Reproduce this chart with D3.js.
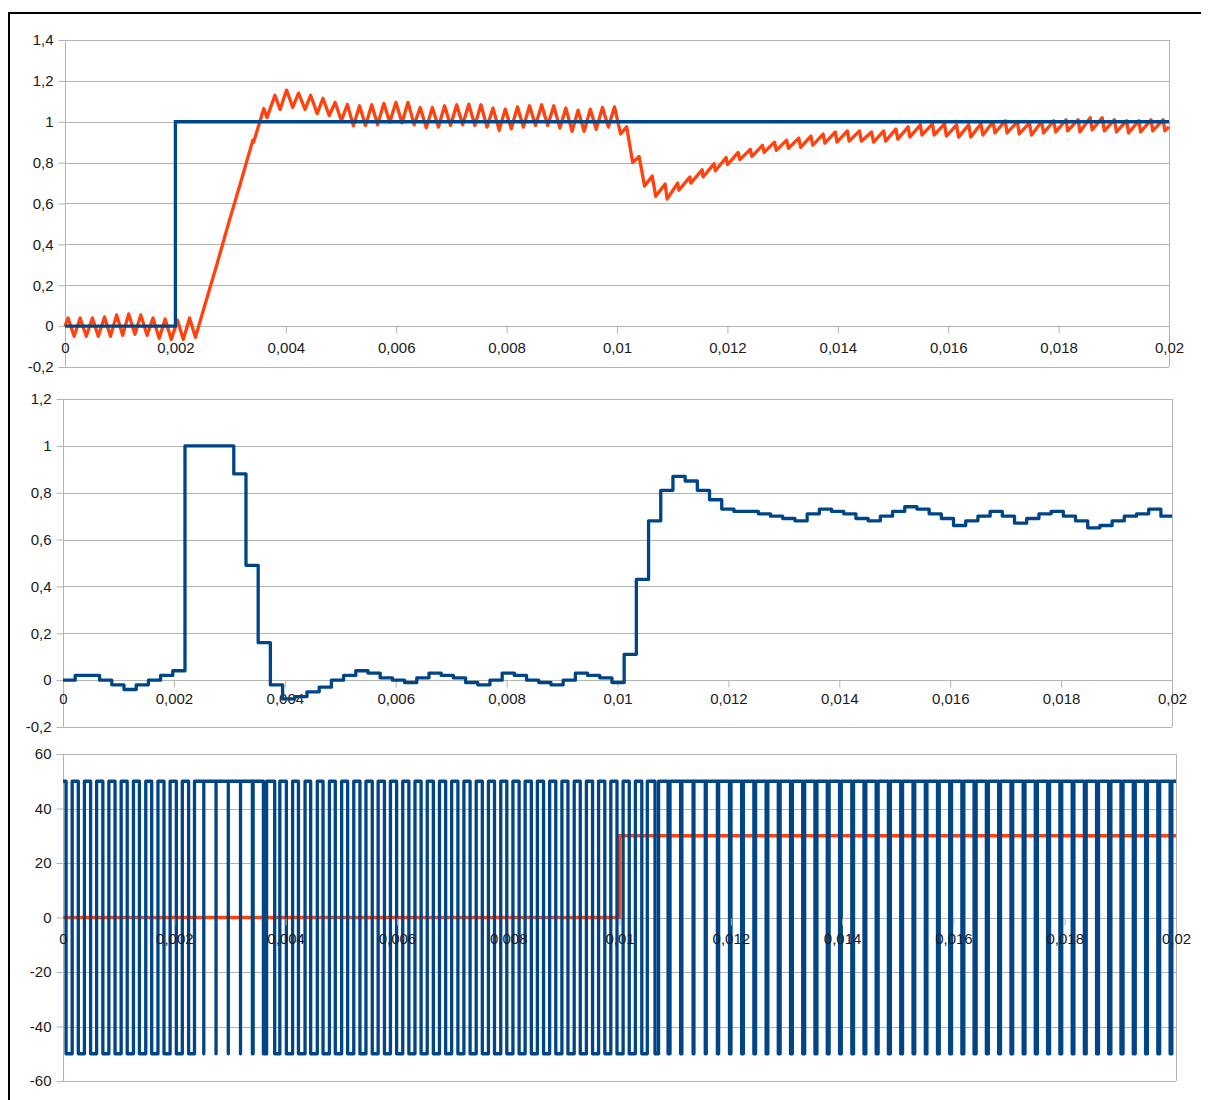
<!DOCTYPE html>
<html>
<head>
<meta charset="utf-8">
<script src="https://cdn.jsdelivr.net/npm/d3@7"></script>
<style>
  html, body { margin: 0; padding: 0; background: #fff; }
  svg { display: block; }
  text { font-family: "Liberation Sans", Arial, sans-serif; }
</style>
</head>
<body>
<svg id="chart" width="1210" height="1100"></svg>
<script>
// ---- data ---------------------------------------------------------------
// switching / sampling period of the converter (s)
const period = 0.00022;
const tEnd = 0.02;

// x-axis ticks (shared by the three plots)
const xTickValues = [0, 0.002, 0.004, 0.006, 0.008, 0.01, 0.012, 0.014, 0.016, 0.018, 0.02];
const xTickLabels = ["0", "0,002", "0,004", "0,006", "0,008", "0,01", "0,012", "0,014", "0,016", "0,018", "0,02"];

// plot 1 y ticks
const y1TickValues = [-0.2, 0, 0.2, 0.4, 0.6, 0.8, 1, 1.2, 1.4];
const y1TickLabels = ["-0,2", "0", "0,2", "0,4", "0,6", "0,8", "1", "1,2", "1,4"];
// plot 2 y ticks
const y2TickValues = [-0.2, 0, 0.2, 0.4, 0.6, 0.8, 1, 1.2];
const y2TickLabels = ["-0,2", "0", "0,2", "0,4", "0,6", "0,8", "1", "1,2"];
// plot 3 y ticks
const y3TickValues = [-60, -40, -20, 0, 20, 40, 60];
const y3TickLabels = ["-60", "-40", "-20", "0", "20", "40", "60"];

// reference step (plot 1, blue)
const refTimes = [0, 0.002];
const refValues = [0, 1];

// load disturbance (plot 3, orange)
const loadTimes = [0, 0.01];
const loadValues = [0, 30];

// controller output, one value per period (plot 2)
const ctrlOut = [
  0, 0.02, 0.02, 0, -0.02, -0.04, -0.02, 0, 0.02, 0.04,
  1, 1, 1, 1, 0.88, 0.49, 0.16, -0.02, -0.08, -0.07,
  -0.05, -0.03, 0, 0.02, 0.04, 0.03, 0.01, 0, -0.01, 0.01,
  0.03, 0.02, 0.01, -0.01, -0.02, 0, 0.03, 0.02, 0, -0.01,
  -0.02, 0, 0.03, 0.02, 0.01, -0.01, 0.11, 0.43, 0.68, 0.81,
  0.87, 0.85, 0.81, 0.77, 0.73, 0.72, 0.72, 0.71, 0.70, 0.69,
  0.68, 0.71, 0.73, 0.72, 0.71, 0.69, 0.68, 0.70, 0.72, 0.74,
  0.73, 0.71, 0.69, 0.66, 0.68, 0.70, 0.72, 0.70, 0.67, 0.69,
  0.71, 0.72, 0.70, 0.68, 0.65, 0.66, 0.68, 0.70, 0.71, 0.73,
  0.70
];

// bridge output: fraction of each period spent at the low level,
// the low pulse sits in the middle of the period (plot 3, blue)
const bridgeLow = [
  0.5, 0.5, 0.49, 0.49, 0.5, 0.51, 0.52, 0.51, 0.5, 0.49,
  0.48, 0, 0, 0, 0, 0.06, 0.26, 0.42, 0.51, 0.54,
  0.54, 0.52, 0.52, 0.5, 0.49, 0.48, 0.49, 0.5, 0.5, 0.5,
  0.5, 0.49, 0.49, 0.5, 0.5, 0.51, 0.5, 0.49, 0.49, 0.5,
  0.5, 0.51, 0.5, 0.49, 0.49, 0.5, 0.5, 0.45, 0.29, 0.16,
  0.1, 0.07, 0.08, 0.1, 0.12, 0.14, 0.14, 0.14, 0.15, 0.15,
  0.16, 0.16, 0.15, 0.14, 0.14, 0.15, 0.16, 0.16, 0.15, 0.14,
  0.13, 0.14, 0.15, 0.16, 0.17, 0.16, 0.15, 0.14, 0.15, 0.17,
  0.16, 0.15, 0.14, 0.15, 0.16, 0.18, 0.17, 0.16, 0.15, 0.15,
  0.14
];
const bridgeHigh = 50;
const bridgeLowLevel = -50;

// plant output (plot 1, orange): value at the start of each low pulse ...
const outPeak = [
  0.04, 0.04, 0.04, 0.045, 0.055, 0.06, 0.055, 0.04, 0.035, 0.03,
  0.04, 0.10, 0.30, 0.51, 0.71, 0.91, 1.065, 1.13, 1.155, 1.14,
  1.13, 1.115, 1.095, 1.085, 1.078, 1.083, 1.09, 1.095, 1.095, 1.07,
  1.07, 1.078, 1.083, 1.086, 1.083, 1.067, 1.062, 1.073, 1.078, 1.083,
  1.078, 1.067, 1.057, 1.062, 1.07, 1.073, 0.975, 0.83, 0.735, 0.695,
  0.70, 0.73, 0.765, 0.795, 0.825, 0.85, 0.865, 0.885, 0.90, 0.91,
  0.92, 0.93, 0.94, 0.95, 0.955, 0.955, 0.95, 0.955, 0.965, 0.975,
  0.985, 0.99, 0.99, 0.985, 0.985, 0.99, 1.0, 1.005, 1.0, 0.995,
  1.0, 1.005, 1.01, 1.01, 1.02, 1.02, 1.01, 1.005, 1.005, 1.01,
  1.01
];
// ... and at its end
const outTrough = [
  -0.05, -0.05, -0.05, -0.05, -0.045, -0.04, -0.045, -0.06, -0.065, -0.065,
  -0.055, 0.10, 0.30, 0.51, 0.71, 0.90, 1.02, 1.06, 1.07, 1.06,
  1.04, 1.03, 1.005, 0.98, 0.982, 0.985, 0.998, 0.995, 0.985, 0.97,
  0.974, 0.982, 0.985, 0.982, 0.974, 0.958, 0.966, 0.974, 0.982, 0.982,
  0.969, 0.953, 0.953, 0.963, 0.974, 0.94, 0.80, 0.685, 0.635, 0.622,
  0.665, 0.70, 0.73, 0.76, 0.79, 0.815, 0.83, 0.85, 0.86, 0.87,
  0.875, 0.885, 0.895, 0.90, 0.905, 0.905, 0.90, 0.905, 0.915, 0.925,
  0.935, 0.935, 0.93, 0.925, 0.925, 0.935, 0.945, 0.945, 0.94, 0.935,
  0.945, 0.95, 0.955, 0.95, 0.96, 0.955, 0.95, 0.945, 0.95, 0.955,
  0.955
];
const outStart = 0;
const outFinal = 0.975;

// ---- styles -------------------------------------------------------------
const BLUE = "#004586";
const ORANGE = "#ff420e";
const GRID = "#b3b3b3";
const TEXT = "#1a1a1a";
const FONT = "'Liberation Sans', Arial, sans-serif";
const LINE_W = 3.3;

const svg = d3.select("#chart");

// outer frame
svg.append("path")
  .attr("d", "M9,1100 V13 H1201")
  .attr("fill", "none")
  .attr("stroke", "#000")
  .attr("stroke-width", 2);

// ---- helpers ------------------------------------------------------------
function drawFrame(g, x, y, yTicks, yLabels) {
  const [x0, x1] = x.range();
  const [yb, yt] = y.range();
  // horizontal grid lines
  g.append("g").selectAll("line").data(yTicks).join("line")
    .attr("x1", x0).attr("x2", x1)
    .attr("y1", d => Math.round(y(d)) + 0.5).attr("y2", d => Math.round(y(d)) + 0.5)
    .attr("stroke", GRID).attr("stroke-width", 1);
  // right border
  g.append("line")
    .attr("x1", Math.round(x1) + 0.5).attr("x2", Math.round(x1) + 0.5)
    .attr("y1", yt).attr("y2", yb)
    .attr("stroke", GRID);
  // y axis
  const yAxis = d3.axisLeft(y)
    .tickValues(yTicks)
    .tickFormat((d, i) => yLabels[i])
    .tickSize(7)
    .tickPadding(5);
  const ya = g.append("g")
    .attr("transform", `translate(${Math.round(x0) + 0.5},0)`)
    .call(yAxis);
  ya.select(".domain").attr("stroke", GRID).attr("d", `M0,${yb}V${yt}`);
  ya.selectAll(".tick line").attr("stroke", GRID);
  ya.selectAll("text").attr("fill", TEXT).style("font-size", "15px")
    .style("font-family", FONT);
}

function drawXAxis(g, x, y, pad) {
  const xAxis = d3.axisBottom(x)
    .tickValues(xTickValues)
    .tickFormat((d, i) => xTickLabels[i])
    .tickSize(7)
    .tickPadding(pad);
  const xa = g.append("g")
    .attr("transform", `translate(0,${Math.round(y(0)) + 0.5})`)
    .call(xAxis);
  xa.select(".domain").remove();
  xa.selectAll(".tick line").attr("stroke", GRID);
  xa.selectAll("text").attr("fill", TEXT).style("font-size", "15px")
    .style("font-family", FONT);
  return xa;
}

function linePath(x, y, curve) {
  return d3.line().x(d => x(d[0])).y(d => y(d[1])).curve(curve || d3.curveLinear);
}

// ---- plot 1: reference and plant output --------------------------------
{
  const x = d3.scaleLinear().domain([0, tEnd]).range([65, 1169]);
  const y = d3.scaleLinear().domain([-0.2, 1.4]).range([367, 40]);
  const g = svg.append("g");
  drawFrame(g, x, y, y1TickValues, y1TickLabels);
  drawXAxis(g, x, y, 9);

  // plant output: vertices at the switching instants
  const out = [[0, outStart]];
  outPeak.forEach((p, j) => {
    const w = bridgeLow[j];
    out.push([(j + 0.5 - w / 2) * period, p]);
    out.push([(j + 0.5 + w / 2) * period, outTrough[j]]);
  });
  out.push([tEnd, outFinal]);
  g.append("path").datum(out)
    .attr("d", linePath(x, y))
    .attr("fill", "none").attr("stroke", ORANGE)
    .attr("stroke-width", LINE_W).attr("stroke-linejoin", "round");

  const ref = refTimes.map((t, i) => [t, refValues[i]]).concat([[tEnd, refValues[refValues.length - 1]]]);
  g.append("path").datum(ref)
    .attr("d", linePath(x, y, d3.curveStepAfter))
    .attr("fill", "none").attr("stroke", BLUE)
    .attr("stroke-width", LINE_W);
}

// ---- plot 2: controller output ------------------------------------------
{
  const x = d3.scaleLinear().domain([0, tEnd]).range([63, 1172]);
  const y = d3.scaleLinear().domain([-0.2, 1.2]).range([727, 399]);
  const g = svg.append("g");
  drawFrame(g, x, y, y2TickValues, y2TickLabels);
  drawXAxis(g, x, y, 6);

  const pts = ctrlOut.map((v, k) => [k * period, v]);
  pts.push([tEnd, ctrlOut[ctrlOut.length - 1]]);
  g.append("path").datum(pts)
    .attr("d", linePath(x, y, d3.curveStepAfter))
    .attr("fill", "none").attr("stroke", BLUE)
    .attr("stroke-width", LINE_W).attr("stroke-linejoin", "round");
}

// ---- plot 3: bridge voltage and load ------------------------------------
{
  const x = d3.scaleLinear().domain([0, tEnd]).range([63, 1176]);
  const y = d3.scaleLinear().domain([-60, 60]).range([1081, 754]);
  const g = svg.append("g");
  drawFrame(g, x, y, y3TickValues, y3TickLabels);

  const load = loadTimes.map((t, i) => [t, loadValues[i]]).concat([[tEnd, loadValues[loadValues.length - 1]]]);
  g.append("path").datum(load)
    .attr("d", linePath(x, y, d3.curveStepAfter))
    .attr("fill", "none").attr("stroke", ORANGE)
    .attr("stroke-width", LINE_W);

  const pwm = [[0, bridgeHigh]];
  bridgeLow.forEach((w, j) => {
    const a = (j + 0.5 - w / 2) * period;
    const b = (j + 0.5 + w / 2) * period;
    pwm.push([a, bridgeHigh], [a, bridgeLowLevel], [b, bridgeLowLevel], [b, bridgeHigh]);
  });
  pwm.push([tEnd, bridgeHigh]);
  g.append("path").datum(pwm)
    .attr("d", linePath(x, y))
    .attr("fill", "none").attr("stroke", BLUE)
    .attr("stroke-width", LINE_W).attr("stroke-linejoin", "round");

  drawXAxis(g, x, y, 8);
}
</script>
</body>
</html>
